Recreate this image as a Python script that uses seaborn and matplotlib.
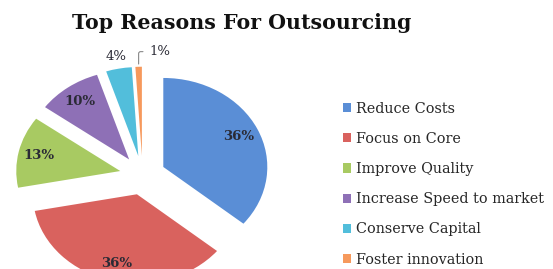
import numpy as np
import matplotlib
matplotlib.use("Agg")
import matplotlib.pyplot as plt
import seaborn as sns

sns.set_theme(style="white")
plt.rcParams['font.family'] = ['DejaVu Serif']

# Data
reasons = ['Reduce Costs', 'Focus on Core', 'Improve Quality',
           'Increase Speed to market', 'Conserve Capital', 'Foster innovation']
shares = [36, 36, 13, 10, 4, 1]
colors = ['#5a8ed6', '#d9625e', '#a8ca62', '#8e70b6', '#52bedb', '#f6995c']

fig = plt.figure(figsize=(5.53, 2.69), dpi=100)
ax = fig.add_axes([0, 0, 1, 1])

explode = [0.22] * len(shares)
wedges, texts, autotexts = ax.pie(
    shares, colors=colors, explode=explode, startangle=90, counterclock=False,
    autopct='%1.0f%%', pctdistance=0.8, radius=1,
    wedgeprops=dict(linewidth=0),
    textprops=dict(fontsize=9.5, fontweight='bold', color='#2a2a35'))

# stretched pie like the original (wider than tall), cropped at the bottom
ax.set_aspect('auto')
px_w, px_h = 553, 269
cx, cy = 142.6, 175.3
rx, ry = 104, 89
ax.set_xlim(-cx / rx, (px_w - cx) / rx)
ax.set_ylim((cy - px_h) / ry, cy / ry)
ax.axis('off')

# small slices get outside labels
for i, (w, t) in enumerate(zip(wedges, autotexts)):
    mid = np.deg2rad((w.theta1 + w.theta2) / 2)
    c = np.array(w.center)
    if shares[i] == 4:
        t.set_position(c + 1.14 * np.array([np.cos(mid), np.sin(mid)]))
        t.set_fontweight('normal')
    elif shares[i] == 1:
        t.set_visible(False)
        tip = c + 1.0 * np.array([np.cos(mid), np.sin(mid)])
        ax.annotate('1%', xy=tip, xytext=(tip[0] + 0.1, tip[1] + 0.17),
                    fontsize=9.5, color='#2a2a35', va='center', ha='left',
                    arrowprops=dict(arrowstyle='-', color='#888888', lw=0.8,
                                    connectionstyle='angle,angleA=0,angleB=90,rad=2'))

fig.text(242 / px_w, 1 - 23 / px_h, 'Top Reasons For Outsourcing',
         ha='center', va='center', fontsize=14.8, fontweight='bold', color='#111111')

leg = fig.legend(wedges, reasons, loc='upper left', bbox_to_anchor=(337 / px_w, 1 - 96 / px_h),
                 frameon=False, fontsize=10.4, handlelength=0.6, handleheight=0.6,
                 handletextpad=0.35, labelspacing=1.12, borderaxespad=0)
for txt in leg.get_texts():
    txt.set_color('#262626')

fig.savefig('out.png', dpi=100)
